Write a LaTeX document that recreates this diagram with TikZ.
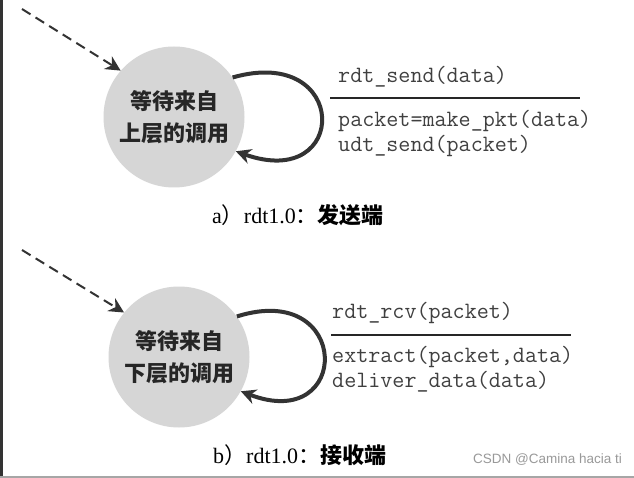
\documentclass[tikz,border=0pt]{standalone}
\usepackage{fontspec}
\setmainfont{Liberation Serif}
\newfontfamily\cjk{Noto Sans CJK SC}
\newfontfamily\wmfont{Liberation Sans}
\usetikzlibrary{arrows.meta}

\begin{document}
\begin{tikzpicture}[x=1pt,y=-1pt,>={Stealth[length=15pt,width=15pt]}]
  \useasboundingbox (0,0) rectangle (634,478);
  \fill[white] (0,0) rectangle (634,478);
  \fill[black!80] (0,0) rectangle (3,478);
  \fill[black!35] (0,476) rectangle (634,478);
  % sender
  \node[circle,fill=black!16,minimum size=141pt,inner sep=0pt,align=center,text=black!85,font=\cjk\bfseries\fontsize{22}{32}\selectfont] (s1) at (174,117) {等待来自\\上层的调用};
  \coordinate (i1) at (22,9);
  \draw[->, black!80, line width=2pt, dash pattern=on 10pt off 6pt] (i1) -- (s1.139);
  \draw[->, black!80, line width=4pt] (s1.34) .. controls (350,44) and (350,192) .. (s1.-29);
  \node[anchor=west,inner sep=0pt,text=black!75,font=\ttfamily\fontsize{23.4}{25}\selectfont] (ev1) at (338,77) {rdt\_send(data)};
  \node[anchor=north west,inner sep=0pt,align=left,text=black!75,font=\ttfamily\fontsize{23.4}{25}\selectfont] (ac1) at (338,110) {packet=make\_pkt(data)\\udt\_send(packet)};
  \draw[black!85, line width=2pt] (330,98) -- (580,98);
  \node[anchor=west,inner sep=0pt,font=\fontsize{22}{25}\selectfont] (cap1) at (212,215) {a{\cjk ）}rdt1.0{\cjk ：\bfseries 发送端}};
  % receiver
  \node[circle,fill=black!16,minimum size=141pt,inner sep=0pt,align=center,text=black!85,font=\cjk\bfseries\fontsize{22}{32}\selectfont] (s2) at (179,357) {等待来自\\下层的调用};
  \coordinate (i2) at (22,250);
  \draw[->, black!80, line width=2pt, dash pattern=on 10pt off 6pt] (i2) -- (s2.141);
  \draw[->, black!80, line width=4pt] (s2.35) .. controls (352,280) and (352,434) .. (s2.-29);
  \node[anchor=west,inner sep=0pt,text=black!75,font=\ttfamily\fontsize{23.4}{25}\selectfont] (ev2) at (332,313) {rdt\_rcv(packet)};
  \node[anchor=north west,inner sep=0pt,align=left,text=black!75,font=\ttfamily\fontsize{23.4}{25}\selectfont] (ac2) at (332,346) {extract(packet,data)\\deliver\_data(data)};
  \draw[black!85, line width=2pt] (331,335) -- (571,335);
  \node[anchor=west,inner sep=0pt,font=\fontsize{22}{25}\selectfont] (cap2) at (213,455) {b{\cjk ）}rdt1.0{\cjk ：\bfseries 接收端}};
  \node[anchor=west,inner sep=0pt,text=black!40,font=\wmfont\fontsize{13.5}{16}\selectfont] (wm) at (473,460) {CSDN @Camina hacia ti};
\end{tikzpicture}
\end{document}
